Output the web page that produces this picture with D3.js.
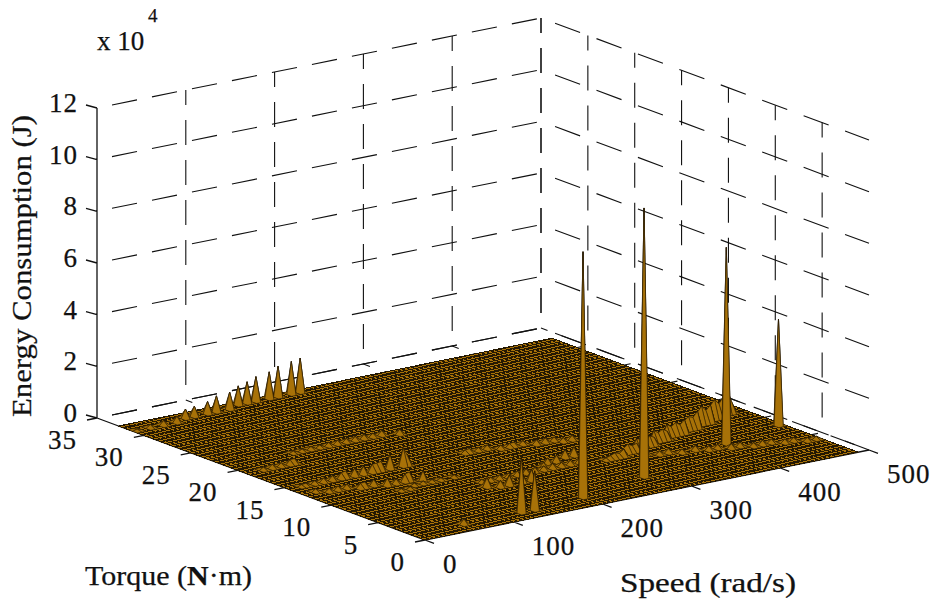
<!DOCTYPE html>
<html>
<head>
<meta charset="utf-8">
<script src="https://cdn.jsdelivr.net/npm/d3@7"></script>
<style>
body { margin: 0; background: #fff; }
text { font-family: "Liberation Serif", serif; fill: #111; stroke: #111; stroke-width: 0.25; }
</style>
</head>
<body>
<svg id="chart" width="935" height="601"></svg>
<script>
const speedTicks = [0, 100, 200, 300, 400, 500];
const torqueTicks = [0, 5, 10, 15, 20, 25, 30, 35];
const energyTicks = [0, 20000, 40000, 60000, 80000, 100000, 120000];
const energyLabels = ['0', '2', '4', '6', '8', '10', '12'];

// tall isolated peaks
const peakSpeed = [199, 284, 408, 483, 124.5, 139.5, 58];
const peakTorque = [2, 3.5, 6.5, 8, 1.5, 1.5, 1.3];
const peakEnergy = [95000, 104000, 76000, 41000, 21300, 15000, 1900];

// row along the far edge
const edgeSpeed = [4, 21, 33, 48, 63, 74, 90, 98, 113, 129, 139, 151, 162, 173, 188, 198];
const edgeTorque = [31, 31.2, 31.3, 31.4, 31.5, 31.6, 31.7, 31.8, 31.9, 32, 32, 32.1, 32.1, 32.1, 32.2, 32.2];
const edgeEnergy = [500, 1200, 1700, 2300, 3400, 3800, 4600, 6100, 6500, 7200, 8100, 9400, 10200, 11700, 12500, 13100];

// low rows in the middle of the floor
const rowASpeed = [73, 83, 93, 103, 113, 123, 133, 143, 153, 163, 173, 188];
const rowATorque = [21.3, 21.3, 21.2, 21.2, 21.1, 21.1, 21, 21, 21, 20.9, 20.9, 20.8];
const rowAEnergy = [700, 800, 1100, 1000, 1300, 1400, 1400, 1500, 1600, 1400, 1700, 1900];
const rowBSpeed = [18, 28, 38, 48, 57];
const rowBTorque = [19.1, 19.1, 19.2, 19.2, 19.2];
const rowBEnergy = [1000, 1400, 1300, 1800, 1900];
const rowCSpeed = [197, 206, 215, 224, 233, 242, 251, 260, 269, 278, 287, 296, 305];
const rowCTorque = [14.8, 14.7, 14.6, 14.4, 14.3, 14.1, 14, 13.9, 13.8, 13.6, 13.5, 13.3, 13.2];
const rowCEnergy = [1300, 1400, 1200, 1500, 1400, 1300, 1500, 1400, 1700, 1800, 1400, 1500, 1700];

// ridges near the left of the floor
const ridgeASpeed = [13, 22, 31, 40, 49, 58, 67, 76, 85, 94, 99, 105, 116, 127, 132];
const ridgeATorque = [14.5, 14.5, 14.5, 14.5, 14.4, 14.4, 14.4, 14.4, 14.4, 14.4, 14.4, 14.4, 14.4, 14.4, 14.4];
const ridgeAEnergy = [700, 900, 1200, 1500, 1800, 2200, 2500, 2800, 3000, 3000, 3100, 3400, 5400, 7000, 3400];
const ridgeBSpeed = [17, 26, 35, 44, 53, 62, 71, 80, 89, 98, 107, 116];
const ridgeBTorque = [12.9, 12.7, 12.6, 12.4, 12.3, 12.1, 12, 11.8, 11.7, 11.5, 11.4, 11.2];
const ridgeBEnergy = [1100, 1300, 1500, 1500, 1800, 2000, 2300, 2700, 1800, 3000, 3400, 3900];
const ridgeCSpeed = [78, 88, 98, 108, 118, 128, 142];
const ridgeCTorque = [10.3, 10.3, 10.4, 10.4, 10.4, 10.4, 10.5];
const ridgeCEnergy = [700, 800, 800, 900, 800, 800, 900];

// ridges around 200 rad/s
const ridgeDSpeed = [152, 162, 172, 182, 192, 202, 212, 222, 232, 242, 252, 264];
const ridgeDTorque = [8.5, 8.5, 8.5, 8.5, 8.5, 8.5, 8.5, 8.5, 8.5, 8.5, 8.5, 8.5];
const ridgeDEnergy = [1200, 1300, 1500, 1500, 1600, 1800, 1600, 1500, 1800, 1500, 1600, 1800];
const groupSpeed = [147, 158, 170, 182, 195];
const groupTorque = [7.3, 7.2, 7, 7.1, 6.9];
const groupEnergy = [3500, 2400, 3800, 3000, 4200];
const ridgeESpeed = [227, 240, 250, 262, 275];
const ridgeETorque = [9.2, 9.4, 9.7, 10, 10.2];
const ridgeEEnergy = [1800, 2200, 2600, 3000, 3400];

// long climbing ridge towards 500 rad/s
const climbSpeed = [288, 293, 298, 303, 308, 313, 318, 323, 328, 333, 338, 343, 348, 353, 358, 363, 368, 373, 378, 383, 388, 393, 398, 403, 408, 413, 418, 423, 428, 433, 438, 443, 448, 453, 458, 463, 468, 473];
const climbTorque = [7.9, 8, 8.1, 8.2, 8.3, 8.4, 8.5, 8.7, 8.8, 8.9, 9, 9.1, 9.2, 9.3, 9.4, 9.6, 9.7, 9.8, 9.9, 10, 10.1, 10.2, 10.3, 10.5, 10.6, 10.7, 10.8, 10.9, 11, 11.2, 11.3, 11.4, 11.5, 11.7, 11.8, 12, 12.1, 12.3];
const climbEnergy = [800, 1300, 2000, 1500, 2800, 2000, 3300, 2400, 3000, 3600, 3300, 2600, 3800, 2900, 4500, 3300, 4300, 3200, 4800, 3500, 4800, 3600, 5200, 3800, 5000, 4400, 6400, 4800, 7000, 5000, 6800, 5400, 7500, 5500, 8000, 6000, 9000, 4000];
const lowSpeed = [331, 341, 351, 361, 371, 381, 391, 401, 411, 421, 431, 441, 451, 461, 471, 482];
const lowTorque = [7.3, 7.1, 6.8, 6.6, 6.3, 6.1, 5.9, 5.6, 5.4, 5.2, 5, 4.8, 4.6, 4.3, 4, 3.8];
const lowEnergy = [1300, 1400, 1600, 1400, 1700, 1600, 1400, 1700, 1600, 1400, 1600, 1400, 1400, 1300, 1300, 1100];

const features = [
    [peakSpeed, peakTorque, peakEnergy], [edgeSpeed, edgeTorque, edgeEnergy],
    [rowASpeed, rowATorque, rowAEnergy], [rowBSpeed, rowBTorque, rowBEnergy],
    [rowCSpeed, rowCTorque, rowCEnergy], [ridgeASpeed, ridgeATorque, ridgeAEnergy],
    [ridgeBSpeed, ridgeBTorque, ridgeBEnergy], [ridgeCSpeed, ridgeCTorque, ridgeCEnergy],
    [ridgeDSpeed, ridgeDTorque, ridgeDEnergy], [groupSpeed, groupTorque, groupEnergy],
    [ridgeESpeed, ridgeETorque, ridgeEEnergy], [climbSpeed, climbTorque, climbEnergy],
    [lowSpeed, lowTorque, lowEnergy]
];

const BROWN = '#a87208';
const EDGE = '#241802';
const SPEED_MAX = 488;
const TORQUE_MAX = 32.7;
const SPEED_STEP = SPEED_MAX / 98;
const TORQUE_STEP = TORQUE_MAX / 65;

const origin = { x: 425, y: 540 };
const speedX = d3.scaleLinear().domain([0, 500]).range([0, 444]);
const speedY = d3.scaleLinear().domain([0, 500]).range([0, -90]);
const torqueX = d3.scaleLinear().domain([0, 35]).range([0, -328]);
const torqueY = d3.scaleLinear().domain([0, 35]).range([0, -122]);
const energyY = d3.scaleLinear().domain([0, 120000]).range([0, -310]);

const project = (s, t, z = 0) => [
    origin.x + speedX(s) + torqueX(t),
    origin.y + speedY(s) + torqueY(t) + energyY(z)
];

const svg = d3.select('#chart');

function dashed(g, a, b, dash, gap, first) {
    g.append('line')
        .attr('x1', a[0]).attr('y1', a[1])
        .attr('x2', b[0]).attr('y2', b[1])
        .attr('stroke', '#111')
        .attr('stroke-width', 1.1)
        .attr('stroke-dasharray', `${dash} ${gap}`)
        .attr('stroke-dashoffset', dash + gap - first);
}

// walls and floor grid
const grid = svg.append('g');
energyTicks.forEach(z => {
    dashed(grid, project(0, 35, z), project(500, 35, z), 25.5, 15.3, 15.3);
    dashed(grid, project(500, 35, z), project(500, 0, z), 26.7, 17.5, 15);
});
speedTicks.slice(1).forEach(s => {
    dashed(grid, project(s, 35, 0), project(s, 35, 120000), 25, 15, 15);
    dashed(grid, project(s, 0), project(s, 35), 26, 15, 15);
});
torqueTicks.slice(1).forEach(t => {
    dashed(grid, project(500, t, 0), project(500, t, 120000), 25, 15, 15);
    dashed(grid, project(0, t), project(500, t), 25.5, 15.3, 15.3);
});

// axes
const axes = svg.append('g').attr('stroke', '#111').attr('stroke-width', 1.3).attr('fill', 'none');
const axisPath = d3.path();
axisPath.moveTo(...project(0, 35, 0));
axisPath.lineTo(...project(0, 35, 120000));
axisPath.moveTo(...project(0, 35, 0));
axisPath.lineTo(...project(0, 0, 0));
axisPath.lineTo(...project(500, 0, 0));
energyTicks.forEach(z => {
    const p = project(0, 35, z);
    axisPath.moveTo(p[0], p[1]);
    axisPath.lineTo(p[0] - 11, p[1] - 3);
});
speedTicks.forEach(s => {
    const p = project(s, 0);
    axisPath.moveTo(p[0], p[1]);
    axisPath.lineTo(p[0] + 9, p[1] + 3.4);
});
torqueTicks.forEach(t => {
    const p = project(0, t);
    axisPath.moveTo(p[0], p[1]);
    axisPath.lineTo(p[0] - 10, p[1] + 2);
});
axes.append('path').attr('d', axisPath.toString());

// heights on the mesh
const speedGrid = d3.range(99).map(i => i * SPEED_STEP);
const torqueGrid = d3.range(66).map(j => j * TORQUE_STEP);
const heights = new Map();
features.forEach(([ss, ts, zs]) => {
    zs.forEach((z, i) => {
        const key = `${Math.round(ss[i] / SPEED_STEP)}_${Math.round(ts[i] / TORQUE_STEP)}`;
        heights.set(key, Math.max(heights.get(key) || 0, z));
    });
});
const heightAt = (i, j) => heights.get(`${i}_${j}`) || 0;

// flat floor first, one fill and one line path
const floorCorners = [project(0, 0), project(SPEED_MAX, 0), project(SPEED_MAX, TORQUE_MAX), project(0, TORQUE_MAX)];
svg.append('polygon')
    .attr('points', floorCorners.map(p => p.join(',')).join(' '))
    .attr('fill', BROWN);

const meshPath = d3.path();
speedGrid.forEach(s => {
    meshPath.moveTo(...project(s, 0));
    meshPath.lineTo(...project(s, TORQUE_MAX));
});
torqueGrid.forEach(t => {
    meshPath.moveTo(...project(0, t));
    meshPath.lineTo(...project(SPEED_MAX, t));
});
svg.append('path')
    .attr('d', meshPath.toString())
    .attr('fill', 'none')
    .attr('stroke', EDGE)
    .attr('stroke-width', 1)
    .attr('shape-rendering', 'crispEdges');

// raised cells, far ones first
const cells = [];
for (let j = torqueGrid.length - 2; j >= 0; j--) {
    for (let i = speedGrid.length - 2; i >= 0; i--) {
        const zs = [heightAt(i, j), heightAt(i + 1, j), heightAt(i + 1, j + 1), heightAt(i, j + 1)];
        if (d3.max(zs) > 0) cells.push({ i, j, zs });
    }
}
svg.append('g')
    .selectAll('path')
    .data(cells)
    .join('path')
    .attr('d', d => {
        const s0 = speedGrid[d.i], s1 = speedGrid[d.i + 1];
        const t0 = torqueGrid[d.j], t1 = torqueGrid[d.j + 1];
        return 'M' + [project(s0, t0, d.zs[0]), project(s1, t0, d.zs[1]), project(s1, t1, d.zs[2]), project(s0, t1, d.zs[3])].join('L') + 'Z';
    })
    .attr('fill', BROWN)
    .attr('stroke', EDGE)
    .attr('stroke-width', 0.55);

// tick labels
const labelSize = 27;
energyTicks.forEach((z, i) => {
    const p = project(0, 35, z);
    svg.append('text')
        .attr('x', p[0] - 19).attr('y', p[1] + 4)
        .attr('text-anchor', 'end')
        .attr('letter-spacing', 1)
        .attr('font-size', labelSize)
        .text(energyLabels[i]);
});
speedTicks.forEach(s => {
    const p = project(s, 0);
    svg.append('text')
        .attr('x', p[0] + 18).attr('y', p[1] + 33)
        .attr('letter-spacing', 1)
        .attr('font-size', labelSize)
        .text(s);
});
torqueTicks.forEach(t => {
    const p = project(0, t);
    svg.append('text')
        .attr('x', p[0] - 20).attr('y', p[1] + 31)
        .attr('text-anchor', 'end')
        .attr('letter-spacing', 1)
        .attr('font-size', labelSize)
        .text(t);
});

// titles
svg.append('text').attr('x', 97).attr('y', 50).attr('font-size', 27).text('x 10');
svg.append('text').attr('x', 148).attr('y', 22).attr('font-size', 19).text('4');
svg.append('text')
    .attr('transform', 'translate(31,417) rotate(-90)')
    .attr('font-size', 28)
    .attr('textLength', 302)
    .attr('lengthAdjust', 'spacingAndGlyphs')
    .text('Energy Consumption (J)');
const torqueLabel = svg.append('text')
    .attr('x', 85).attr('y', 585)
    .attr('font-size', 27)
    .attr('textLength', 167)
    .attr('lengthAdjust', 'spacingAndGlyphs');
torqueLabel.append('tspan').text('Torque (');
torqueLabel.append('tspan').attr('font-weight', 'bold').text('N');
torqueLabel.append('tspan').text('·m)');
svg.append('text')
    .attr('x', 620).attr('y', 592)
    .attr('font-size', 27)
    .attr('textLength', 176)
    .attr('lengthAdjust', 'spacingAndGlyphs')
    .text('Speed (rad/s)');
</script>
</body>
</html>
